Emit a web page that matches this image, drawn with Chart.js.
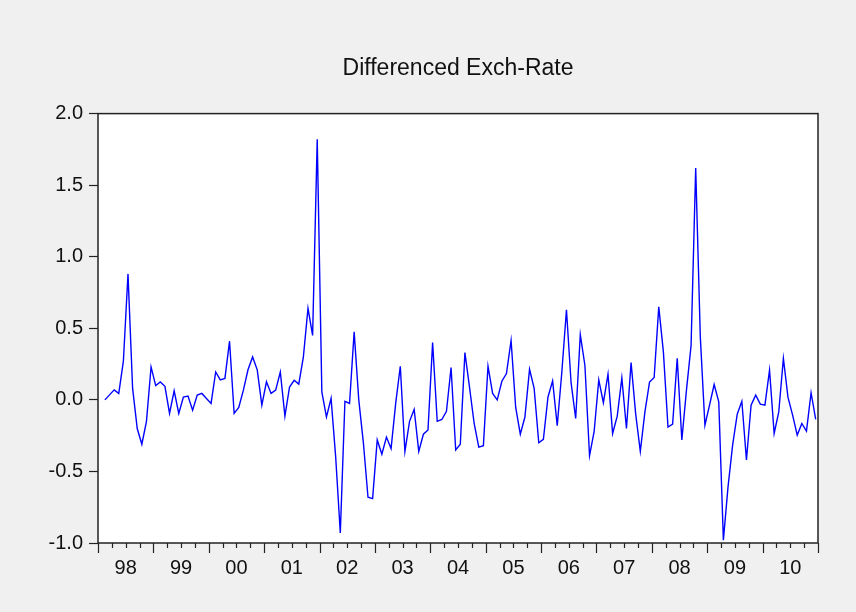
<!DOCTYPE html>
<html>
<head>
<meta charset="utf-8">
<script src="https://cdn.jsdelivr.net/npm/chart.js@4.4.0/dist/chart.umd.min.js"></script>
<style>
    html, body { margin: 0; padding: 0; background: #f0f0f0; }
</style>
</head>
<body>
<canvas id="exchChart" width="856" height="612"></canvas>
<script>
// monthly, first difference, starts 1998M02 and runs to 2010M12
const firstMonthIndex = 1; // months after Jan 1998
const yearLabels = ['98', '99', '00', '01', '02', '03', '04', '05', '06', '07', '08', '09', '10'];
const yTickValues = [-1.0, -0.5, 0.0, 0.5, 1.0, 1.5, 2.0];

const diffExchRate = [
    0.00, 0.035, 0.07, 0.045, 0.27, 0.88, 0.08, -0.20, -0.31, -0.15, 0.23,
    0.10, 0.125, 0.095, -0.095, 0.063, -0.095, 0.02, 0.026, -0.072, 0.033, 0.045, 0.01, -0.025,
    0.195, 0.14, 0.15, 0.41, -0.095, -0.053, 0.068, 0.21, 0.30, 0.21, -0.037, 0.126,
    0.045, 0.068, 0.195, -0.114, 0.09, 0.137, 0.11, 0.30, 0.64, 0.45, 1.82, 0.056,
    -0.12, 0.01, -0.40, -0.93, -0.01, -0.025, 0.475, 0.0, -0.30, -0.68, -0.69, -0.28,
    -0.38, -0.26, -0.34, -0.025, 0.235, -0.36, -0.15, -0.067, -0.36, -0.24, -0.21, 0.40,
    -0.15, -0.137, -0.08, 0.226, -0.35, -0.31, 0.33, 0.087, -0.165, -0.33, -0.32, 0.235,
    0.045, 0.0, 0.13, 0.184, 0.415, -0.053, -0.24, -0.12, 0.214, 0.08, -0.30, -0.276,
    0.02, 0.133, -0.18, 0.195, 0.63, 0.12, -0.13, 0.456, 0.24, -0.39, -0.22, 0.14,
    -0.02, 0.18, -0.235, -0.114, 0.153, -0.20, 0.26, -0.10, -0.36, -0.084, 0.124, 0.156,
    0.65, 0.335, -0.19, -0.17, 0.29, -0.28, 0.068, 0.38, 1.62, 0.44, -0.177, -0.037,
    0.107, -0.014, -0.98, -0.61, -0.316, -0.10, -0.01, -0.42, -0.037, 0.033, -0.03, -0.037,
    0.207, -0.235, -0.084, 0.29, 0.017, -0.107, -0.246, -0.165, -0.218, 0.05, -0.137,
];

const fontFamily = "'Liberation Sans', Arial, sans-serif";
const totalMonths = yearLabels.length * 12;

// each observation sits in the middle of its month slot
const points = diffExchRate.map((v, i) => ({ x: firstMonthIndex + i + 0.5, y: v }));

const plotFrame = {
    id: 'plotFrame',
    beforeDraw: (chart) => {
        const { ctx, chartArea: a } = chart;
        ctx.save();
        ctx.fillStyle = '#f0f0f0';
        ctx.fillRect(0, 0, chart.width, chart.height);
        ctx.fillStyle = '#ffffff';
        ctx.fillRect(a.left, a.top, a.right - a.left, a.bottom - a.top);
        ctx.restore();
    },
    afterDraw: (chart) => {
        const { ctx, chartArea: a } = chart;
        const x = chart.scales.x;
        ctx.save();
        ctx.strokeStyle = '#222222';
        ctx.lineWidth = 1.5;
        ctx.strokeRect(a.left, a.top, a.right - a.left, a.bottom - a.top);
        // quarter ticks, longer at year boundaries
        ctx.beginPath();
        for (let m = 0; m <= totalMonths; m += 3) {
            const px = Math.round(x.getPixelForValue(m)) + 0.5;
            const len = m % 12 === 0 ? 10 : 5;
            ctx.moveTo(px, a.bottom);
            ctx.lineTo(px, a.bottom + len);
        }
        ctx.lineWidth = 1.2;
        ctx.stroke();
        ctx.restore();
    },
};

new Chart(document.getElementById('exchChart').getContext('2d'), {
    type: 'line',
    data: {
        datasets: [
            {
                label: 'Differenced Exch-Rate',
                data: points,
                borderColor: '#0000ff',
                backgroundColor: '#0000ff',
                borderWidth: 1.4,
                pointRadius: 0,
                tension: 0,
                fill: false,
            },
        ],
    },
    options: {
        responsive: false,
        animation: false,
        layout: { padding: { left: 0, right: 38, top: 0, bottom: 0 } },
        plugins: {
            legend: { display: false },
            tooltip: { enabled: false },
            title: {
                display: true,
                fullSize: false, // centre over the plot, not the canvas
                text: 'Differenced Exch-Rate',
                color: '#111111',
                font: { family: fontFamily, size: 23, weight: 'normal' },
                padding: { top: 55, bottom: 31 },
            },
        },
        scales: {
            x: {
                type: 'linear',
                min: 0,
                max: totalMonths,
                afterBuildTicks: (scale) => {
                    scale.ticks = yearLabels.map((_, i) => ({ value: i * 12 + 6 }));
                },
                afterFit: (scale) => {
                    scale.height = 69;
                },
                ticks: {
                    autoSkip: false,
                    maxRotation: 0,
                    padding: 3,
                    color: '#111111',
                    font: { family: fontFamily, size: 20 },
                    callback: (value) => yearLabels[Math.round((value - 6) / 12)],
                },
                grid: { drawOnChartArea: false, tickLength: 10, tickColor: 'transparent' },
                border: { display: false },
            },
            y: {
                min: -1,
                max: 2,
                afterBuildTicks: (scale) => {
                    scale.ticks = yTickValues.map((v) => ({ value: v }));
                },
                afterFit: (scale) => {
                    scale.width = 98;
                },
                ticks: {
                    padding: 6,
                    color: '#111111',
                    font: { family: fontFamily, size: 20 },
                    callback: (value) => value.toFixed(1),
                },
                grid: { drawOnChartArea: false, tickLength: 9, tickColor: '#222222', tickWidth: 1.2 },
                border: { display: false },
            },
        },
    },
    plugins: [plotFrame],
});
</script>
</body>
</html>
